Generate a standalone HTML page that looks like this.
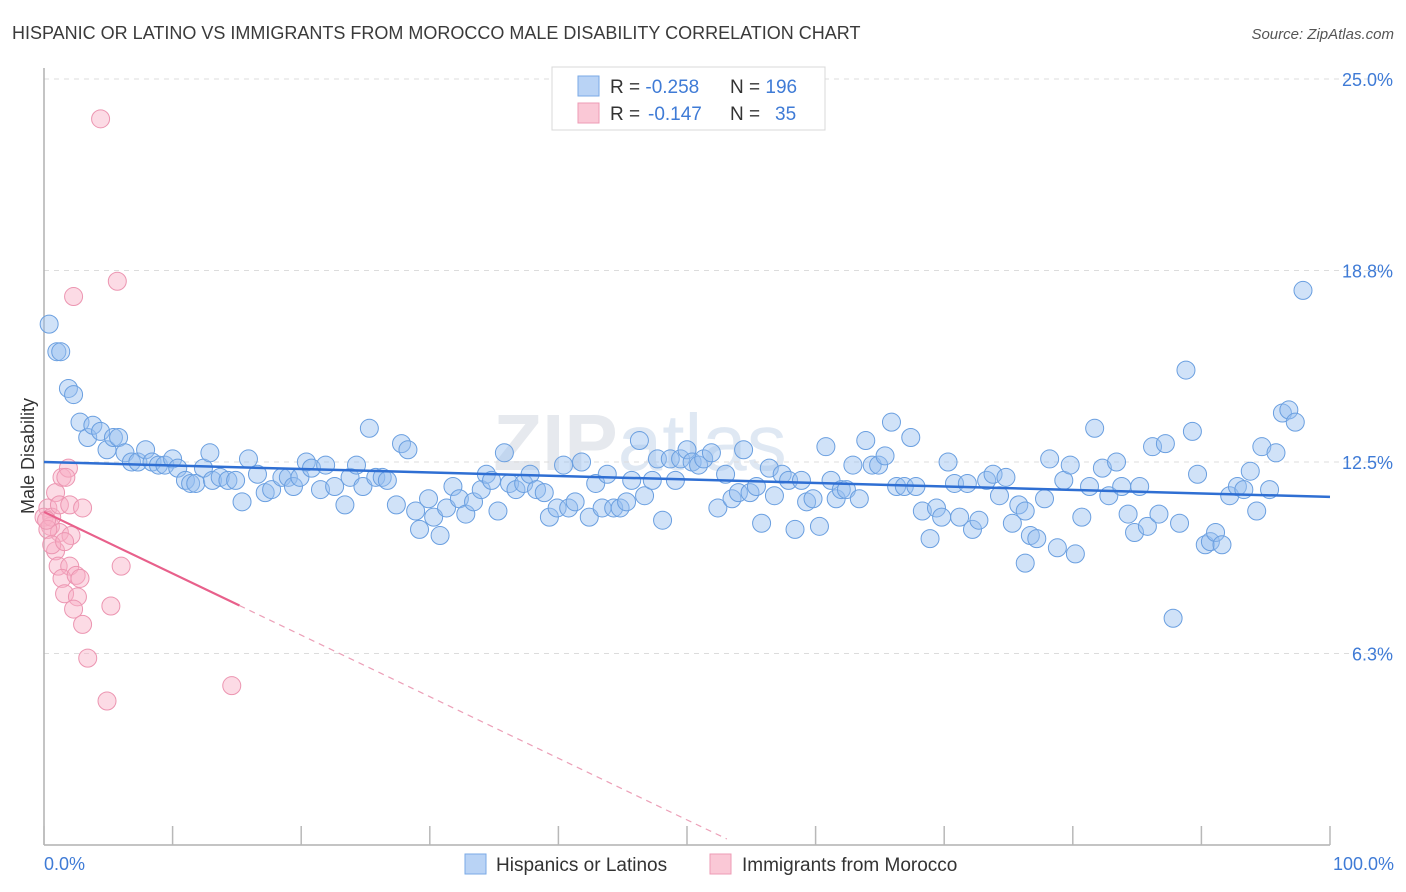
<!DOCTYPE html>
<html><head><meta charset="utf-8">
<style>
body{margin:0;background:#fff;font-family:"Liberation Sans",sans-serif;}
#wrap{position:relative;width:1406px;height:892px;overflow:hidden;}
svg text{font-family:"Liberation Sans",sans-serif;}
</style></head>
<body>
<div id="wrap">
<svg id="chart" width="1406" height="892" xmlns="http://www.w3.org/2000/svg">
<text x="12" y="39" font-size="18" fill="#3a3a3a">HISPANIC OR LATINO VS IMMIGRANTS FROM MOROCCO MALE DISABILITY CORRELATION CHART</text>
<text x="1394" y="39" font-size="15" fill="#555" text-anchor="end" font-style="italic">Source: ZipAtlas.com</text>
<text x="640" y="470" font-size="80" fill="#e6e9ee" font-family="Liberation Serif" font-weight="bold" text-anchor="middle">ZIP<tspan font-family="Liberation Sans" font-weight="normal" fill="#dfe8f3">atlas</tspan></text>
<g id="grid"></g>
<g id="axes"></g>
<g id="pts"></g>
<g id="trend"></g>
<text transform="translate(34,456) rotate(-90)" font-size="18" fill="#333" text-anchor="middle">Male Disability</text>
<text x="44" y="870" font-size="18" fill="#3f7bd6">0.0%</text>
<text x="1394" y="870" font-size="18" fill="#3f7bd6" text-anchor="end">100.0%</text>
<g>
<rect x="552" y="67" width="273" height="63" fill="#fff" stroke="#d8d8d8"/>
<rect x="578" y="76" width="21" height="20" fill="#b9d3f5" stroke="#7aaae6"/>
<rect x="578" y="103" width="21" height="20" fill="#fac8d6" stroke="#ee9bb5"/>
<text x="610" y="93" font-size="19" fill="#333">R = <tspan fill="#3f7bd6">-0.258</tspan><tspan x="730">N = </tspan><tspan fill="#3f7bd6">196</tspan></text>
<text x="610" y="120" font-size="19" fill="#333">R = <tspan x="648" fill="#3f7bd6">-0.147</tspan><tspan x="730">N = </tspan><tspan x="775" fill="#3f7bd6">35</tspan></text>
</g>
<g>
<rect x="465" y="854" width="21" height="20" fill="#b9d3f5" stroke="#7aaae6"/>
<text x="496" y="871" font-size="19" fill="#333">Hispanics or Latinos</text>
<rect x="710" y="854" width="21" height="20" fill="#fac8d6" stroke="#ee9bb5"/>
<text x="742" y="871" font-size="19" fill="#333">Immigrants from Morocco</text>
</g>
</svg>
</div>
<script>
const yTicks=[6.25,12.5,18.75,25];
const yTickLabels=["6.3%","12.5%","18.8%","25.0%"];
const xTicks=[0,10,20,30,40,50,60,70,80,90,100];
const blueX=[0.4,1.0,1.3,1.9,2.3,2.8,3.4,3.8,4.4,4.9,5.4,5.8,6.3,6.8,7.3,7.9,8.4,8.9,9.4,10.0,10.4,11.0,11.4,11.8,12.4,12.9,13.1,13.7,14.3,14.9,15.4,15.9,16.6,17.2,17.7,18.5,19.0,19.4,19.9,20.4,20.8,21.5,21.9,22.6,23.4,23.8,24.3,24.8,25.3,25.8,26.3,26.7,27.4,27.8,28.3,28.9,29.2,29.9,30.3,30.8,31.3,31.8,32.3,32.8,33.4,34.0,34.4,34.8,35.3,35.8,36.2,36.7,37.3,37.8,38.3,38.9,39.3,39.9,40.4,40.8,41.3,41.8,42.4,42.9,43.4,43.8,44.3,44.8,45.3,45.7,46.3,46.7,47.3,47.7,48.1,48.7,49.1,49.5,50.0,50.4,50.9,51.3,51.9,52.4,53.0,53.5,54.0,54.4,54.9,55.4,55.8,56.4,56.8,57.4,57.9,58.4,58.9,59.3,59.8,60.3,60.8,61.2,61.6,62.0,62.4,62.9,63.4,63.9,64.4,64.9,65.4,65.9,66.3,66.9,67.4,67.8,68.3,68.9,69.4,69.8,70.3,70.8,71.2,71.8,72.2,72.7,73.3,73.8,74.3,74.8,75.3,75.8,76.3,76.7,77.2,77.8,78.2,78.8,79.3,79.8,80.2,80.7,81.3,81.7,82.3,82.8,83.4,83.8,84.3,84.8,85.2,85.8,86.2,86.7,87.2,87.8,88.3,88.8,89.3,89.7,90.3,90.7,91.1,91.6,92.2,92.8,93.3,93.8,94.3,94.7,95.3,95.8,96.3,96.8,97.3,97.9,76.3];
const blueY=[17.0,16.1,16.1,14.9,14.7,13.8,13.3,13.7,13.5,12.9,13.3,13.3,12.8,12.5,12.5,12.9,12.5,12.4,12.4,12.6,12.3,11.9,11.8,11.8,12.3,12.8,11.9,12.0,11.9,11.9,11.2,12.6,12.1,11.5,11.6,12.0,12.0,11.7,12.0,12.5,12.3,11.6,12.4,11.7,11.1,12.0,12.4,11.7,13.6,12.0,12.0,11.9,11.1,13.1,12.9,10.9,10.3,11.3,10.7,10.1,11.0,11.7,11.3,10.8,11.2,11.6,12.1,11.9,10.9,12.8,11.8,11.6,11.8,12.1,11.6,11.5,10.7,11.0,12.4,11.0,11.2,12.5,10.7,11.8,11.0,12.1,11.0,11.0,11.2,11.9,13.2,11.4,11.9,12.6,10.6,12.6,11.9,12.6,12.9,12.5,12.4,12.6,12.8,11.0,12.1,11.3,11.5,12.9,11.5,11.7,10.5,12.3,11.4,12.1,11.9,10.3,11.9,11.2,11.3,10.4,13.0,11.9,11.3,11.6,11.6,12.4,11.3,13.2,12.4,12.4,12.7,13.8,11.7,11.7,13.3,11.7,10.9,10.0,11.0,10.7,12.5,11.8,10.7,11.8,10.3,10.6,11.9,12.1,11.4,12.0,10.5,11.1,10.9,10.1,10.0,11.3,12.6,9.7,11.9,12.4,9.5,10.7,11.7,13.6,12.3,11.4,12.5,11.7,10.8,10.2,11.7,10.4,13.0,10.8,13.1,7.4,10.5,15.5,13.5,12.1,9.8,9.9,10.2,9.8,11.4,11.7,11.6,12.2,10.9,13.0,11.6,12.8,14.1,14.2,13.8,18.1,9.2];
const pinkX=[4.4,5.7,2.3,0.3,0.0,0.5,0.6,0.9,1.2,1.4,1.9,1.7,1.2,2.0,2.1,3.0,0.9,1.1,2.0,1.4,1.6,2.5,2.8,2.6,2.3,3.0,3.4,5.2,6.0,4.9,14.6,0.3,0.6,0.2,1.6];
const pinkY=[23.7,18.4,17.9,11.0,10.7,10.4,10.7,11.5,11.1,12.0,12.3,12.0,10.2,11.1,10.1,11.0,9.6,9.1,9.1,8.7,8.2,8.8,8.7,8.1,7.7,7.2,6.1,7.8,9.1,4.7,5.2,10.3,9.8,10.6,9.9];
const blueTrend=[12.5,11.36];      // y at x=0, y at x=100
const pinkTrend=[10.87,-0.201];    // intercept, slope per %
const pinkSolidEnd=15.2;
const pinkDashEnd=53.1;

const NS="http://www.w3.org/2000/svg";
const X0=44,X1=1330,Y0=845,YPX=30.64;
const sx=v=>X0+(X1-X0)*v/100;
const sy=v=>Y0-v*YPX;
function mk(tag,attrs,parent){const e=document.createElementNS(NS,tag);for(const k in attrs)e.setAttribute(k,attrs[k]);parent.appendChild(e);return e;}
const grid=document.getElementById('grid'),axes=document.getElementById('axes'),pts=document.getElementById('pts'),trend=document.getElementById('trend'),svg=document.getElementById('chart');
yTicks.forEach((t,i)=>{
  const l=mk('line',{x1:X0,x2:1394,y1:sy(t),y2:sy(t),stroke:'#dcdcdc','stroke-dasharray':'5,5'},grid);
  
  
  const tx=mk('text',{x:1393,y:sy(t)+7,'font-size':18,fill:'#3f7bd6','text-anchor':'end'},svg);
  tx.textContent=yTickLabels[i];
  
  
});
const xa=mk('line',{x1:X0,x2:X1,y1:Y0,y2:Y0,stroke:'#b0b0b0','stroke-width':1.5},axes);


const ya=mk('line',{x1:X0,x2:X0,y1:68,y2:Y0,stroke:'#b0b0b0','stroke-width':1.5},axes);


xTicks.forEach(t=>{
  const l=mk('line',{x1:sx(t),x2:sx(t),y1:826,y2:Y0,stroke:'#b8b8b8','stroke-width':1.5},axes);
  
  
});
blueX.forEach((x,i)=>{
  const c=mk('circle',{cx:sx(x),cy:sy(blueY[i]),r:9,fill:'rgba(150,190,240,0.45)',stroke:'#6a9fe0','stroke-width':1},pts);
  
  
});
pinkX.forEach((x,i)=>{
  const c=mk('circle',{cx:sx(x),cy:sy(pinkY[i]),r:9,fill:'rgba(248,175,198,0.45)',stroke:'#ec95b1','stroke-width':1},pts);
  
  
});
const bt=mk('line',{x1:sx(0),y1:sy(blueTrend[0]),x2:sx(100),y2:sy(blueTrend[1]),stroke:'#2f6fd3','stroke-width':2.5},trend);


const pf=x=>pinkTrend[0]+pinkTrend[1]*x;
const ps=mk('line',{x1:sx(0),y1:sy(pf(0)),x2:sx(pinkSolidEnd),y2:sy(pf(pinkSolidEnd)),stroke:'#e8608b','stroke-width':2.2},trend);


const pd=mk('line',{x1:sx(pinkSolidEnd),y1:sy(pf(pinkSolidEnd)),x2:sx(pinkDashEnd),y2:sy(pf(pinkDashEnd)),stroke:'#eca0b8','stroke-width':1.2,'stroke-dasharray':'6,5'},trend);


</script>
</body></html>
